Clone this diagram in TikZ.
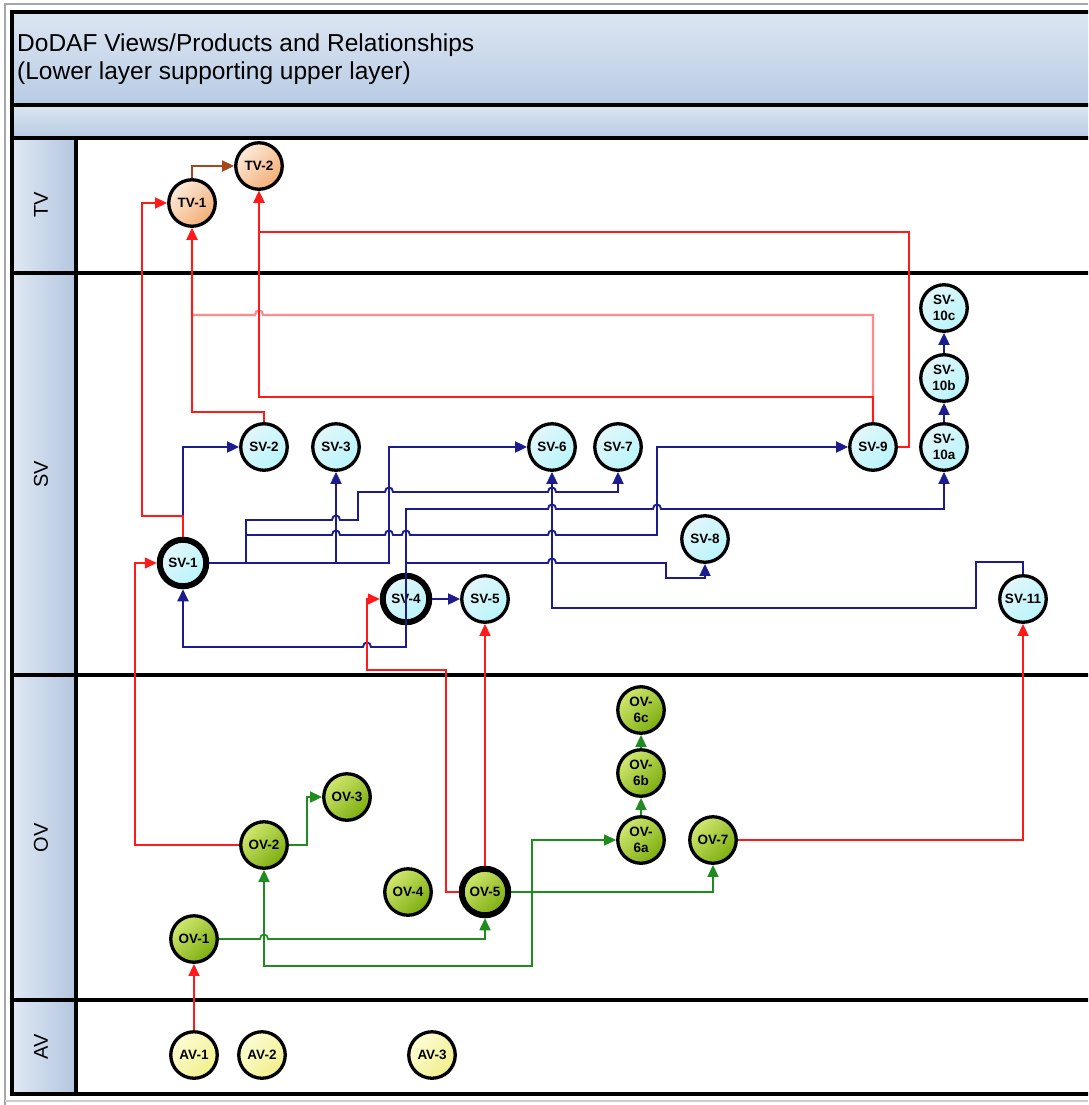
\documentclass[tikz,border=0pt]{standalone}
\usepackage{fontspec}
\setmainfont{Liberation Sans}
\usetikzlibrary{arrows.meta}
\definecolor{rd}{HTML}{FF1A1A}
\definecolor{pk}{HTML}{FF8A8A}
\definecolor{nv}{HTML}{1C1C8C}
\definecolor{gn}{HTML}{1F8C1F}
\definecolor{brn}{HTML}{A4491E}
\definecolor{bandA}{HTML}{DCE6F2}
\definecolor{bandB}{HTML}{B8CBE4}
\definecolor{lbA}{HTML}{E0E8F3}
\definecolor{lbB}{HTML}{B3C6E0}
\definecolor{tvA}{HTML}{FDEBDB}
\definecolor{tvB}{HTML}{F3AE76}
\definecolor{svA}{HTML}{E3F6FA}
\definecolor{svB}{HTML}{B8F5FC}
\definecolor{ovA}{HTML}{D2E770}
\definecolor{ovB}{HTML}{7BAD0E}
\definecolor{avA}{HTML}{FDFDD6}
\definecolor{avB}{HTML}{F0EF8A}
\begin{document}
\begin{tikzpicture}[x=1pt,y=-1pt,
  nd/.style={circle,draw=black,line width=3.3pt,minimum size=46.5pt,inner sep=0pt,align=center,
    font=\fontsize{13.5}{15.5}\selectfont\bfseries},
  heavy/.style={line width=6pt},
  tvn/.style={nd,top color=tvA,bottom color=tvB,shading angle=45},
  svn/.style={nd,top color=svA,bottom color=svB,shading angle=45},
  ovn/.style={nd,top color=ovA,bottom color=ovB,shading angle=45},
  avn/.style={nd,top color=avA,bottom color=avB,shading angle=45},
  arr/.style={-{Triangle[length=12pt,width=11pt]}},
  rl/.style={draw=rd,line width=1.6pt},
  pl/.style={draw=pk,line width=2.2pt},
  bl/.style={draw=nv,line width=1.9pt},
  gl/.style={draw=gn,line width=1.7pt},
  bwl/.style={draw=brn,line width=1.9pt},
  frame/.style={line width=4.5pt,draw=black},
  lane/.style={rotate=90,font=\fontsize{20}{24}\selectfont,inner sep=0pt}
]
\useasboundingbox (0,0) rectangle (1088,1105);
\clip (0,0) rectangle (1088,1105);
\fill[white] (0,0) rectangle (1088,1105);
% outer thin border
\draw[gray!70,line width=1.5pt] (5,1105) -- (5,4) -- (1090,4);
\draw[gray!40,line width=1.5pt] (5,1101) -- (1090,1101);
% bands
\shade[top color=bandA,bottom color=bandB] (12,12) rectangle (1090,105);
\shade[top color=bandA,bottom color=bandB] (12,105) rectangle (1090,138);
\shade[left color=lbA,right color=lbB] (12,138) rectangle (76,1094);
% frame lines
\draw[frame] (12,1094) -- (12,12) -- (1092,12);
\foreach \yy in {105,138,273,675,1000,1094} \draw[frame] (10,\yy) -- (1092,\yy);
\draw[line width=4pt] (76,138) -- (76,1094);
% titles
\node[anchor=base west,inner sep=0pt,font=\fontsize{24.5}{28}\selectfont] (t1) at (17,52) {DoDAF Views/Products and Relationships};
\node[anchor=base west,inner sep=0pt,font=\fontsize{24.5}{28}\selectfont] (t2) at (17,80) {(Lower layer supporting upper layer)};
\node[lane] (lTV) at (41,205) {TV};
\node[lane] (lSV) at (41,474) {SV};
\node[lane] (lOV) at (41,838) {OV};
\node[lane] (lAV) at (41,1047) {AV};
% nodes
\node[tvn] (tv1) at (192,203) {TV-1};
\node[tvn] (tv2) at (259,166) {TV-2};
\node[svn,heavy] (sv1) at (183,563) {SV-1};
\node[svn] (sv2) at (264,447) {SV-2};
\node[svn] (sv3) at (336,447) {SV-3};
\node[svn,heavy] (sv4) at (406,599) {SV-4};
\node[svn] (sv5) at (485,599) {SV-5};
\node[svn] (sv6) at (552,447) {SV-6};
\node[svn] (sv7) at (618,447) {SV-7};
\node[svn] (sv8) at (705,539) {SV-8};
\node[svn] (sv9) at (873,447) {SV-9};
\node[svn] (sv10a) at (944,447) {SV-\\10a};
\node[svn] (sv10b) at (944,378) {SV-\\10b};
\node[svn] (sv10c) at (944,308) {SV-\\10c};
\node[svn] (sv11) at (1023,599) {SV-11};
\node[ovn] (ov1) at (194,939) {OV-1};
\node[ovn] (ov2) at (264,845) {OV-2};
\node[ovn] (ov3) at (347,797) {OV-3};
\node[ovn] (ov4) at (408,892) {OV-4};
\node[ovn,heavy] (ov5) at (485,892) {OV-5};
\node[ovn] (ov6a) at (641,840) {OV-\\6a};
\node[ovn] (ov6b) at (641,773) {OV-\\6b};
\node[ovn] (ov6c) at (641,710) {OV-\\6c};
\node[ovn] (ov7) at (713,840) {OV-7};
\node[avn] (av1) at (194,1055) {AV-1};
\node[avn] (av2) at (262,1055) {AV-2};
\node[avn] (av3) at (432,1055) {AV-3};
% blue connectors
\coordinate (j3) at (336,563);
\draw[bl,arr] (sv1.north) -- (183,447) -- (sv2.west);
\draw[bl,arr] (sv1.east) -- (389,563) -- (389,447) -- (sv6.west);
\draw[bl,arr] (j3) -- (sv3.south);
\draw[bl,arr] (sv1.east) -- (246,563) -- (246,520) -- (332,520) .. controls (332,514) and (340,514) .. (340,520)
  -- (358,520) -- (358,492) -- (385,492) .. controls (385,486) and (393,486) .. (393,492)
  -- (548,492) .. controls (548,486) and (556,486) .. (556,492) -- (618,492) -- (sv7.south);
\draw[bl,arr] (sv1.east) -- (246,563) -- (246,535) -- (332,535) .. controls (332,529) and (340,529) .. (340,535)
  -- (385,535) .. controls (385,529) and (393,529) .. (393,535)
  -- (402,535) .. controls (402,529) and (410,529) .. (410,535)
  -- (548,535) .. controls (548,529) and (556,529) .. (556,535) -- (657,535) -- (657,447) -- (sv9.west);
\draw[bl,arr] (sv4.north) -- (406,509) -- (548,509) .. controls (548,503) and (556,503) .. (556,509)
  -- (653,509) .. controls (653,503) and (661,503) .. (661,509) -- (944,509) -- (sv10a.south);
\draw[bl,arr] (sv4.north) -- (406,563) -- (548,563) .. controls (548,557) and (556,557) .. (556,563)
  -- (666,563) -- (666,578) -- (705,578) -- (sv8.south);
\draw[bl,arr] (sv4.north) -- (406,647) -- (371,647) .. controls (371,641) and (363,641) .. (363,647)
  -- (183,647) -- (sv1.south);
\draw[bl,arr] (sv11.north) -- (1023,562) -- (976,562) -- (976,608) -- (552,608) -- (sv6.south);
\draw[bl,arr] (sv4.east) -- (sv5.west);
\draw[bl,arr] (sv10a.north) -- (sv10b.south);
\draw[bl,arr] (sv10b.north) -- (sv10c.south);
% green connectors
\draw[gl,arr] (ov2.east) -- (307,845) -- (307,797) -- (ov3.west);
\draw[gl,arr] (ov1.east) -- (260,939) .. controls (260,933) and (268,933) .. (268,939) -- (485,939) -- (ov5.south);
\draw[gl,arr] (ov5.east) -- (532,892) -- (532,840) -- (ov6a.west);
\draw[gl,arr] (ov5.east) -- (532,892) -- (532,966) -- (264,966) -- (ov2.south);
\draw[gl,arr] (ov5.east) -- (713,892) -- (ov7.south);
\draw[gl,arr] (ov6a.north) -- (ov6b.south);
\draw[gl,arr] (ov6b.north) -- (ov6c.south);
% red connectors
\draw[pl,arr] (sv9.north) -- (873,315) -- (263,315) .. controls (263,309) and (255,309) .. (255,315) -- (192,315) -- (tv1.south);
\draw[rl,arr] (sv2.north) -- (264,412) -- (192,412) -- (tv1.south);
\draw[rl,arr] (sv9.north) -- (873,397) -- (259,397) -- (tv2.south);
\draw[rl,arr] (sv9.east) -- (909,447) -- (909,232) -- (259,232) -- (tv2.south);
\draw[rl,arr] (sv1.north) -- (183,516) -- (142,516) -- (142,203) -- (tv1.west);
\draw[rl,arr] (ov2.west) -- (135,845) -- (135,563) -- (sv1.west);
\draw[rl,arr] (ov5.west) -- (446,892) -- (446,670) -- (367,670) -- (367,599) -- (sv4.west);
\draw[rl,arr] (ov5.north) -- (sv5.south);
\draw[rl,arr] (ov7.east) -- (1023,840) -- (sv11.south);
\draw[rl,arr] (av1.north) -- (ov1.south);
\draw[bwl,arr] (tv1.north) -- (192,166) -- (tv2.west);
\end{tikzpicture}
\end{document}
